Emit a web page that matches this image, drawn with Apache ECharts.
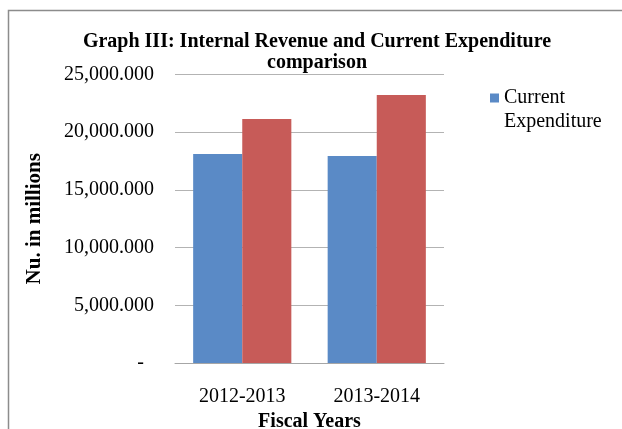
<!DOCTYPE html>
<html><head><meta charset="utf-8">
<script src="https://cdn.jsdelivr.net/npm/echarts@6/dist/echarts.min.js"></script>
<style>html,body{margin:0;padding:0;background:#fff}#c{width:622px;height:429px}</style>
</head><body><div id="c"></div>
<script>
const categories = ['2012-2013', '2013-2014'];
const currentExpenditure = [18110, 17940];
const internalRevenue = [21140, 23220];
const yTicks = [0, 5000, 10000, 15000, 20000, 25000];

const FONT = '"Liberation Serif", "Times New Roman", serif';
const chart = echarts.init(document.getElementById('c'), null, {renderer: 'canvas'});
function fmt(v) {
  if (v === 0) return '-  ';
  return v.toLocaleString('en-US', {minimumFractionDigits: 3, maximumFractionDigits: 3});
}
chart.setOption({
  animation: false,
  backgroundColor: '#fff',
  graphic: [{
    type: 'rect', shape: {x: 8.5, y: 10.5, width: 640, height: 440},
    style: {fill: 'none', stroke: '#8c8c8c', lineWidth: 1.5}, silent: true
  }],
  title: {
    text: 'Graph III: Internal Revenue and Current Expenditure\ncomparison',
    left: 312, top: 26, textAlign: 'center',
    textStyle: {fontFamily: FONT, fontWeight: 'bold', fontSize: 20, lineHeight: 21, color: '#000'}
  },
  legend: {
    data: ['Current Expenditure'],
    left: 485, top: 57, itemWidth: 9, itemHeight: 9, itemGap: 4,
    icon: 'rect',
    formatter: function (n) { return ' \n' + n.replace(' ', '\n'); },
    textStyle: {fontFamily: FONT, fontSize: 20, lineHeight: 24, color: '#000'}
  },
  grid: {left: 175, right: 178, top: 74.5, bottom: 66, containLabel: false, outerBoundsMode: 'none'},
  xAxis: {
    type: 'category', data: categories,
    name: 'Fiscal Years', nameLocation: 'middle', nameGap: 46,
    nameTextStyle: {fontFamily: FONT, fontWeight: 'bold', fontSize: 20, color: '#000'},
    axisLine: {lineStyle: {color: '#a6a6a6', width: 1}},
    axisTick: {show: false},
    axisLabel: {fontFamily: FONT, fontSize: 20, color: '#000', margin: 24}
  },
  yAxis: {
    type: 'value', min: 0, max: 25000, interval: 5000,
    name: 'Nu. in millions', nameLocation: 'middle', nameGap: 130, nameRotate: 90,
    nameTextStyle: {fontFamily: FONT, fontWeight: 'bold', fontSize: 21, color: '#000'},
    axisLine: {show: false}, axisTick: {show: false},
    splitLine: {lineStyle: {color: '#b3b3b3', width: 1}},
    axisLabel: {fontFamily: FONT, fontSize: 20, color: '#000', margin: 21,
      formatter: function (v) { return yTicks.indexOf(v) >= 0 ? fmt(v) : ''; }}
  },
  series: [
    {name: 'Current Expenditure', type: 'bar', data: currentExpenditure, barGap: '0%', barCategoryGap: '27%',
     itemStyle: {color: '#5a8ac6'}},
    {name: 'Internal Revenue', type: 'bar', data: internalRevenue, barGap: '0%', barCategoryGap: '27%',
     itemStyle: {color: '#c75b58'}}
  ]
});
</script></body></html>
